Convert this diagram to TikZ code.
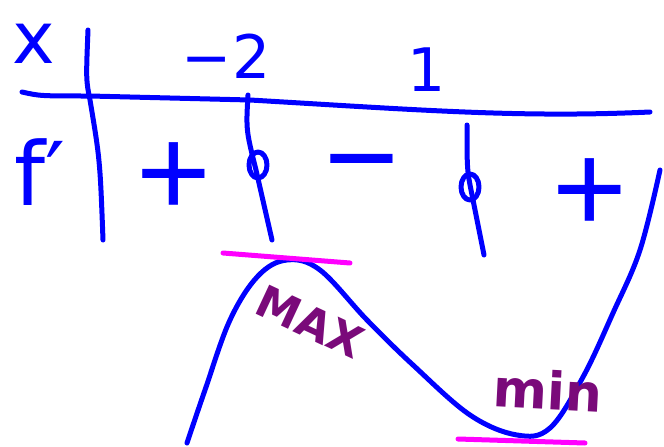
\documentclass[tikz,border=0pt]{standalone}
\usepackage{fontspec}
\setmainfont{DejaVu Sans}
\newfontfamily\signfont{Liberation Sans}
\usetikzlibrary{calc}
\definecolor{PenBlue}{HTML}{0000FF}
\definecolor{PenPink}{HTML}{FF00FF}
\definecolor{PenPurple}{HTML}{7A0A7A}

\begin{document}
\begin{tikzpicture}[
      x=1pt,y=-1pt,
      pen/.style={draw=PenBlue,line width=5pt,line cap=round,line join=round},
      tangent/.style={draw=PenPink,line width=5pt,line cap=round},
      hand/.style={text=PenBlue,inner sep=0pt,font=\fontsize{72}{72}\selectfont},
      sign/.style={text=PenBlue,inner sep=0pt,font=\signfont\fontsize{128}{128}\selectfont},
      tick/.style={text=PenBlue,inner sep=0pt,font=\fontsize{60}{60}\selectfont},
      note/.style={text=PenPurple,inner sep=0pt,font=\bfseries\fontsize{44}{44}\selectfont}
    ]
      \useasboundingbox (0,0) rectangle (664,447);

      % table lines
      \draw[pen] (22,92) .. controls (40,96) .. (90,96) -- (250,100)
        .. controls (420,110) and (520,118) .. (650,112);
      \draw[pen] (88,30) .. controls (86,80) .. (90,100) .. controls (100,160) .. (103,240);
      \draw[pen] (248,95) .. controls (246,130) .. (256,170) -- (272,240);
      \draw[pen] (467,125) .. controls (467,170) .. (472,195) -- (484,255);
      \draw[pen] (258,165) ellipse (9 and 13);
      \draw[pen] (470,187) ellipse (9 and 13);

      % labels
      \node[hand] (xlab) at (34,44) {x};
      \node[hand,font=\fontsize{88}{88}\selectfont] (fprime) at (40,172) {f′};
      \node[tick] (lefttick) at (226,56) {−2};
      \node[tick] (righttick) at (427,70) {1};
      \node[sign] (plusA) at (174,180) {+};
      \node[sign] (minus) at (362,178) {−};
      \node[sign] (plusB) at (590,196) {+};

      % graph of f
      \draw[pen] plot[smooth,tension=0.6] coordinates {
        (187,443) (205,390) (230,320) (258,276) (287,260) (320,270)
        (367,320) (413,365) (470,415) (517,435) (550,428) (583,377)
        (613,313) (640,250) (660,170)};
      \draw[tangent] (223,253) -- (350,263);
      \draw[tangent] (458,439) -- (585,443);

      \node[note,rotate=-25] (maxlab) at (310,322) {MAX};
      \node[note,font=\bfseries\fontsize{52}{52}\selectfont,rotate=-3] (minlab) at (548,390) {min};
    \end{tikzpicture}
\end{document}
